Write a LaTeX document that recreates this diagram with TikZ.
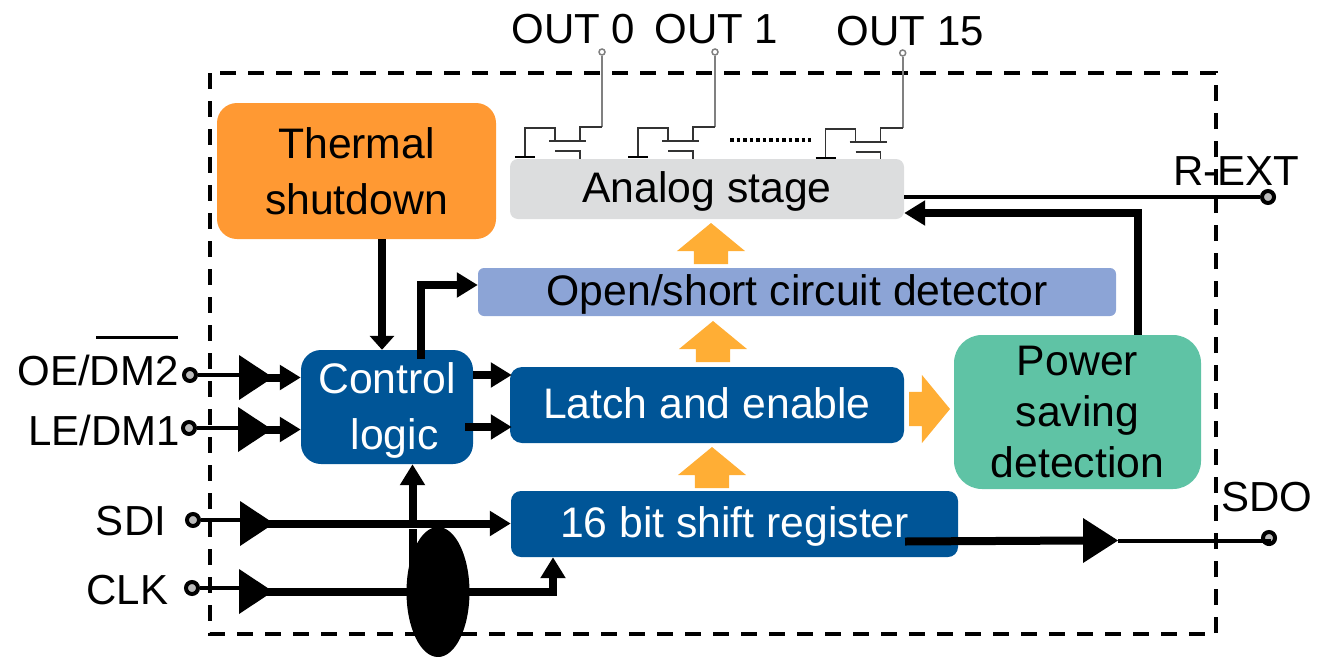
\documentclass[tikz,border=0pt]{standalone}
\usepackage{fontspec}
\usepackage{xcolor}
\setmainfont{Liberation Sans}
\usetikzlibrary{shapes.geometric,shapes.arrows,arrows.meta}
\definecolor{blockblue}{HTML}{005597}
\definecolor{blockorange}{HTML}{FF9933}
\definecolor{blockgray}{HTML}{DCDDDE}
\definecolor{blockperi}{HTML}{8CA4D6}
\definecolor{blockgreen}{HTML}{5FC3A5}
\definecolor{flowyellow}{HTML}{FFAE35}
\definecolor{pingray}{HTML}{BBBBBB}
\newcommand{\lowtext}[1]{\raisebox{-13pt}[0pt][0pt]{#1}}

\begin{document}
\begin{tikzpicture}[x=1pt,y=-1pt,
    txt/.style={font=\fontsize{42}{56}\selectfont,inner sep=0pt,anchor=base},
    blk/.style={font=\fontsize{42.7}{56}\selectfont,inner sep=0pt,align=center},
    bluek/.style={blk,fill=blockblue,text=white},
    pad/.style={circle,draw,line width=4pt,fill=pingray,minimum size=12pt,inner sep=0pt},
    outpad/.style={circle,draw=gray,line width=1.5pt,fill=white,minimum size=6pt,inner sep=0pt},
    buf/.style={isosceles triangle,isosceles triangle stretches,fill=black,inner sep=0pt,outer sep=0pt,
      minimum height=34pt,minimum width=45pt,anchor=lower side},
    flow/.style={single arrow,fill=flowyellow,inner xsep=0pt,inner ysep=17pt,outer sep=0pt,minimum height=41pt,minimum width=68pt,
      single arrow head extend=17pt,single arrow tip angle=101,anchor=tail},
    wire/.style={line width=4pt},
    bus/.style={line width=8pt,-{Triangle[length=21pt,width=24pt]}},
    fet/.style={line width=1.5pt,draw=black!80}]
    \useasboundingbox (0,0) rectangle (1319,656);

    \draw [line width=3.6pt,dash pattern=on 16pt off 12pt] (210,73) rectangle (1216,634);

    \foreach \i/\dx/\dy in {0/0/0,1/113/0,15/300.7/1} {
      \begin{scope}[xshift=\dx pt,yshift=-\dy pt]
        \node [outpad] (p\i) at (602,52) {};
        \draw [line width=2pt,draw=gray] (p\i) -- (602,127);
        \draw [fet] (602,127) -- (580,127) -- (580,141);
        \draw [fet] (549,141) -- (586,141);
        \draw [fet] (555,141) -- (555,128) -- (525,128) -- (525,157);
        \draw [fet] (555,151) -- (580,151) -- (580,160);
        \draw [line width=2.5pt] (515,157) -- (535,157);
      \end{scope}
    }
    \draw [line width=4pt,dash pattern=on 3.5pt off 3pt] (730,140) -- (811,140);

    \node [blk,fill=blockorange,rounded corners=20pt,minimum width=279pt,minimum height=136pt] (thermal) at (356.5,171) {Thermal\\shutdown};
    \node [blk,fill=blockgray,rounded corners=8pt,minimum width=394pt,minimum height=60pt] (analog) at (707,189) {\lowtext{Analog stage}};
    \node [blk,fill=blockperi,rounded corners=6pt,minimum width=638pt,minimum height=48pt] (detector) at (797,292) {\lowtext{Open/short circuit detector}};
    \node [bluek,rounded corners=20pt,minimum width=172pt,minimum height=114pt] (control) at (387,407) {\rule{0pt}{37pt}Control\\\hspace{15pt}logic};
    \node [bluek,rounded corners=12pt,minimum width=394pt,minimum height=76pt] (latch) at (707,405) {\lowtext{Latch and enable}};
    \node [blk,fill=blockgreen,rounded corners=28pt,minimum width=247pt,minimum height=154pt,font=\fontsize{42.7}{51}\selectfont] (power) at (1077.5,412) {Power\\saving\\detection};
    \node [bluek,rounded corners=10pt,minimum width=447pt,minimum height=66pt] (shift) at (734.5,524) {\lowtext{16 bit shift register}};

    \node [flow,rotate=90] (flowa) at (711,264) {};
    \node [flow,rotate=90] (flowb) at (713,362) {};
    \node [flow,rotate=90] (flowc) at (712,488) {};
    \node [flow] (flowd) at (909,409) {};

    \node [txt] (out0) at (573.5,43) {OUT 0};
    \node [txt] (out1) at (716.5,43) {OUT 1};
    \node [txt] (out15) at (910.5,45) {OUT 15};
    \node [txt] (oe) at (98,385) {OE/DM2};
    \node [txt] (le) at (104,445) {LE/DM1};
    \node [txt] (sdi) at (131,535) {SDI};
    \node [txt] (clk) at (127.5,604) {CLK};
    \node [txt] (rext) at (1236,185) {R-EXT};
    \node [txt] (sdo) at (1267,511) {SDO};
    \draw [line width=3pt] ([xshift=-1pt,yshift=17pt]oe.north east) coordinate (barr) -- ++(-82,0) coordinate (barl);

    \node [pad] (oepad) at (190,375) {};
    \node [pad] (lepad) at (189,428) {};
    \node [pad] (sdipad) at (193,520) {};
    \node [pad] (clkpad) at (192,588) {};
    \node [pad] (rextpad) at (1268,197) {};
    \node [pad] (sdopad) at (1269,538) {};

    \node [buf] (oebuf) at (239,377.5) {};
    \node [buf] (lebuf) at (238,429.5) {};
    \node [buf] (sdibuf) at (240,523.5) {};
    \node [buf] (clkbuf) at (239,591.5) {};
    \node [buf,minimum height=35pt] (sdobuf) at (1083,540.5) {};

    \draw [wire] (oepad) -- (oepad -| oebuf.lower side);
    \draw [wire] (lepad) -- (lepad -| lebuf.lower side);
    \draw [wire] (sdipad) -- (sdipad -| sdibuf.lower side);
    \draw [wire] (clkpad) -- (clkpad -| clkbuf.lower side);
    \draw [wire] (sdobuf.apex) -- (sdobuf.apex -| sdopad) -- (sdopad);
    \draw [wire] (analog.east |- rextpad) -- (rextpad);

    \draw [bus] ([xshift=-10pt]oebuf.apex) -- (control.west |- oebuf.apex);
    \draw [bus] ([xshift=-10pt]lebuf.apex) -- (control.west |- lebuf.apex);
    \draw [bus] ([xshift=-10pt]sdibuf.apex) -- (shift.west |- sdibuf.apex);
    \node [ellipse,fill=black,inner sep=0pt,minimum width=63pt,minimum height=130pt] (hub) at (438,592) {};
    \draw [line width=8pt] ([xshift=-10pt]clkbuf.apex) -- (553,591.5);
    \draw [line width=8pt] (412.5,591.5) -- (412.5,529);
    \draw [bus] (412.5,527) -- (control.south -| 412.5,0);
    \draw [bus] (553,596) -- (shift.south -| 553,0);
    \draw [bus,-{Triangle[length=14pt,width=24pt]}] ([xshift=25.5pt]thermal.south) -- (control.north -| 382,0);
    \draw [bus] (421,359) -- (421,285) -- (detector.west |- 0,285);
    \draw [bus] (control.east |- 0,375) -- ([xshift=2pt]latch.west |- 0,375);
    \draw [bus] (465,427) -- ([xshift=2pt]latch.west |- 0,427);
    \draw [bus] (power.north -| 1138,0) -- (1138,213) -- (analog.east |- 0,213);
    \draw [line width=8pt] (905,541.5) -- (sdobuf.lower side);
\end{tikzpicture}
\end{document}
